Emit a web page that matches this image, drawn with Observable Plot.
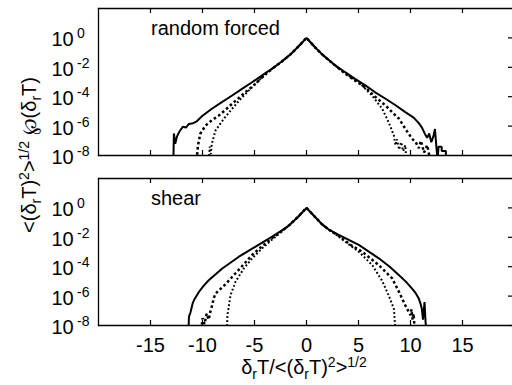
<!DOCTYPE html>
<html>
<head>
<meta charset="utf-8">
<script src="https://cdn.jsdelivr.net/npm/d3@7"></script>
<script src="https://cdn.jsdelivr.net/npm/@observablehq/plot@0.6"></script>
<style>
  html, body { margin: 0; padding: 0; background: #fff; }
  #fig { position: relative; width: 512px; height: 385px; overflow: hidden; background: #fff;
         font-family: "Liberation Sans", Arial, sans-serif; color: #000; }
  #fig svg { position: absolute; left: 0; }
  .title { position: absolute; white-space: nowrap; font-size: 20px; line-height: 20px; }
  .sub { font-size: 14px; position: relative; top: 5px; }
  .sup { font-size: 14px; position: relative; top: -7px; }
</style>
</head>
<body>
<div id="fig"></div>
<script>
// Axis ticks and panel labels
const xTicks = [-15, -10, -5, 0, 5, 10, 15];
const yExponents = [0, -2, -4, -6, -8];
const panelLabels = ["random forced", "shear"];

// PDF curves: [δrT / rms, log10 of normalized PDF]
const forcedSolid = [
  [-12.8,-8.3],[-12.75,-6.5],[-12.62,-7.2],[-12.45,-6.7],[-12.2,-6.35],[-11.9,-6.05],[-11.6,-6.1],
  [-11.3,-5.85],[-10.9,-5.8],[-10.6,-5.7],[-10.0,-5.3],[-9.1,-4.82],[-8.1,-4.35],[-7.15,-3.92],
  [-6.2,-3.47],[-5.2,-3.0],[-4.2,-2.52],[-3.3,-2.08],[-2.4,-1.62],[-1.5,-1.1],[-0.8,-0.6],[0,0],
  [0.8,-0.62],[1.5,-1.12],[2.6,-1.78],[3.75,-2.35],[4.7,-2.8],[5.7,-3.25],[6.6,-3.7],[7.6,-4.14],
  [8.6,-4.6],[9.5,-5.05],[10.3,-5.42],[10.8,-5.8],[11.1,-6.1],[11.4,-6.55],[11.6,-6.8],[11.8,-6.5],
  [12.0,-7.1],[12.2,-6.7],[12.35,-6.2],[12.5,-7.5],[12.6,-8.3],[12.7,-7.4],[13.0,-7.4],[13.0,-7.7],
  [13.4,-7.7],[13.4,-8.3]
];
const forcedDashed = [
  [-10.55,-8.3],[-10.45,-7.4],[-10.35,-7.0],[-10.2,-6.5],[-9.7,-5.96],[-9.1,-5.6],[-8.43,-5.28],
  [-7.8,-4.9],[-7.15,-4.48],[-6.5,-4.08],[-5.87,-3.69],[-5.2,-3.3],[-4.58,-2.9],[-3.9,-2.45],
  [-3.3,-2.1],[-2.4,-1.62],[-1.5,-1.1],[-0.8,-0.6],[0,0],[0.8,-0.62],[1.5,-1.12],[2.6,-1.78],
  [3.5,-2.3],[4.4,-2.78],[5.1,-3.1],[5.7,-3.4],[6.6,-4.0],[7.6,-4.6],[8.3,-5.1],[8.9,-5.5],
  [9.5,-6.18],[10.15,-6.86],[10.5,-7.1],[10.8,-7.5],[11.0,-7.0],[11.3,-7.8],[11.6,-7.3],[11.9,-8.3]
];
const forcedDotted = [
  [-9.4,-8.3],[-9.3,-7.4],[-9.2,-7.9],[-9.1,-7.2],[-8.75,-6.3],[-7.95,-5.5],[-7.15,-4.82],
  [-6.18,-4.03],[-5.22,-3.35],[-4.26,-2.67],[-3.4,-2.15],[-2.4,-1.62],[-1.5,-1.1],[-0.8,-0.6],
  [0,0],[0.8,-0.62],[1.5,-1.12],[2.6,-1.8],[3.75,-2.42],[5.03,-3.01],[6.3,-3.92],[7.28,-4.82],
  [7.9,-5.74],[8.4,-6.64],[8.55,-7.3],[8.7,-6.9],[8.9,-7.6],[9.1,-7.1],[9.3,-7.7],[9.5,-7.3],[9.6,-8.3]
];
const shearSolid = [
  [-11.35,-8.3],[-11.3,-7.4],[-11.15,-7.1],[-10.95,-6.5],[-10.8,-6.25],[-10.35,-5.72],[-9.9,-5.3],
  [-9.4,-4.92],[-8.1,-4.12],[-6.5,-3.32],[-4.9,-2.64],[-3.3,-1.95],[-2.4,-1.55],[-1.7,-1.2],
  [-0.8,-0.6],[0,0],[0.8,-0.6],[1.5,-1.12],[2.2,-1.5],[3.1,-1.84],[5.03,-2.52],[6.95,-3.43],
  [8.0,-4.0],[8.9,-4.58],[9.6,-5.05],[10.15,-5.49],[10.5,-5.8],[10.8,-6.17],[11.0,-6.6],
  [11.1,-6.9],[11.2,-7.6],[11.35,-6.4],[11.45,-7.8],[11.55,-8.3]
];
const shearDashed = [
  [-10.1,-8.3],[-10.0,-7.5],[-9.8,-7.9],[-9.6,-7.2],[-9.4,-7.6],[-9.2,-6.9],[-9.05,-6.6],
  [-8.95,-6.2],[-8.75,-5.83],[-7.8,-5.2],[-6.5,-4.2],[-5.22,-3.2],[-4.26,-2.6],[-3.3,-2.05],
  [-2.4,-1.6],[-1.7,-1.2],[-0.8,-0.6],[0,0],[0.8,-0.6],[1.5,-1.12],[2.2,-1.5],[3.1,-1.9],
  [4.2,-2.5],[5.35,-2.98],[6.95,-3.89],[8.24,-4.8],[8.9,-5.72],[9.5,-6.63],[10.0,-7.3],
  [10.1,-6.9],[10.2,-7.6],[10.3,-7.2],[10.4,-8.3]
];
const shearDotted = [
  [-7.65,-8.3],[-7.6,-7.3],[-7.31,-5.95],[-6.83,-5.03],[-6.03,-4.12],[-5.22,-3.43],[-4.26,-2.75],
  [-3.3,-2.15],[-2.4,-1.62],[-1.7,-1.22],[-0.8,-0.6],[0,0],[0.8,-0.6],[1.5,-1.12],[2.2,-1.52],
  [3.1,-1.95],[4.0,-2.45],[5.03,-2.98],[6.32,-3.89],[7.28,-4.97],[7.9,-5.95],[8.4,-6.86],[8.55,-8.3]
];

const lineStyles = {
  dotted: {strokeWidth: 2, strokeDasharray: "1.8,2.2", strokeLinecap: "butt"},
  dashed: {strokeWidth: 2.5, strokeDasharray: "2.6,2.6", strokeLinecap: "butt"},
  solid:  {strokeWidth: 2, strokeLinecap: "butt"}
};

const toRows = pts => pts.map(([x, lg]) => ({x, p: Math.pow(10, lg)}));

const W = 512;
const FRAME_LEFT = 98, FRAME_RIGHT = 514; // right border falls just outside the page
const FONT = "'Liberation Sans', Arial, sans-serif";

function panel({label, curves, height, marginTop, marginBottom, tickLabels, top}) {
  const frameH = height - marginTop - marginBottom;
  const frameW = W - FRAME_LEFT;
  const marks = [];
  for (const [style, pts] of curves) {
    marks.push(Plot.line(toRows(pts), {x: "x", y: "p", stroke: "#000", clip: true,
      strokeLinejoin: "miter", ...lineStyles[style]}));
  }
  marks.push(
    Plot.frame({anchor: "top", stroke: "#000", strokeWidth: 1.3}),
    Plot.frame({anchor: "bottom", stroke: "#000", strokeWidth: 1.3}),
    Plot.frame({anchor: "left", stroke: "#000", strokeWidth: 1.3}),
    // inward ticks along top and bottom borders
    Plot.tickX(xTicks, {x: d => d, stroke: "#000", strokeWidth: 1.2, insetBottom: frameH - 5}),
    Plot.tickX(xTicks, {x: d => d, stroke: "#000", strokeWidth: 1.2, insetTop: frameH - 5}),
    // inward ticks along right border
    Plot.tickY(yExponents, {y: e => Math.pow(10, e), stroke: "#000", strokeWidth: 1.2, insetLeft: frameW - 4}),
    // y tick labels: base and exponent
    Plot.text(yExponents, {y: e => Math.pow(10, e), frameAnchor: "left", text: () => "10",
      textAnchor: "start", dx: -47, dy: 2, fontSize: 20, fill: "#000"}),
    Plot.text(yExponents, {y: e => Math.pow(10, e), frameAnchor: "left", text: e => String(e),
      textAnchor: "start", dx: -21.5, dy: -4, fontSize: 14, fill: "#000"}),
    Plot.text([label], {frameAnchor: "top-left", textAnchor: "start", lineAnchor: "top",
      dx: 52.5, dy: 12, fontSize: 20, fill: "#000"})
  );
  if (tickLabels) {
    marks.push(Plot.text(xTicks, {x: d => d, text: d => String(d), frameAnchor: "bottom",
      lineAnchor: "top", dy: 12.5, fontSize: 20, fill: "#000"}));
  }
  const svg = Plot.plot({
    width: W, height, marginTop, marginBottom, marginLeft: FRAME_LEFT, marginRight: 0,
    style: {fontFamily: FONT, background: "transparent", overflow: "visible"},
    x: {domain: [-20, 20], range: [FRAME_LEFT, FRAME_RIGHT], axis: null},
    y: {type: "log", domain: [1e-8, 1e2], axis: null},
    marks
  });
  svg.style.top = top + "px";
  return svg;
}

const fig = document.getElementById("fig");
fig.appendChild(panel({
  label: panelLabels[0],
  curves: [["dotted", forcedDotted], ["dashed", forcedDashed], ["solid", forcedSolid]],
  height: 162, marginTop: 8, marginBottom: 7, tickLabels: false, top: 0
}));
fig.appendChild(panel({
  label: panelLabels[1],
  curves: [["dotted", shearDotted], ["dashed", shearDashed], ["solid", shearSolid]],
  height: 223, marginTop: 16, marginBottom: 60, tickLabels: true, top: 162
}));

// axis titles
const xTitle = document.createElement("div");
xTitle.className = "title";
xTitle.innerHTML = 'δ<span class="sub">r</span>T/&lt;(δ<span class="sub">r</span>T)<span class="sup">2</span>&gt;<span class="sup">1/2</span>';
xTitle.style.left = "304px";
xTitle.style.top = "357px";
xTitle.style.transform = "translateX(-50%)";
fig.appendChild(xTitle);

const yTitle = document.createElement("div");
yTitle.className = "title";
yTitle.innerHTML = '&lt;(δ<span class="sub">r</span>T)<span class="sup">2</span>&gt;<span class="sup">1/2</span> ℘(δ<span class="sub">r</span>T)';
yTitle.style.left = "30px";
yTitle.style.top = "155px";
yTitle.style.transform = "translate(-50%, -50%) rotate(-90deg)";
fig.appendChild(yTitle);
</script>
</body>
</html>
